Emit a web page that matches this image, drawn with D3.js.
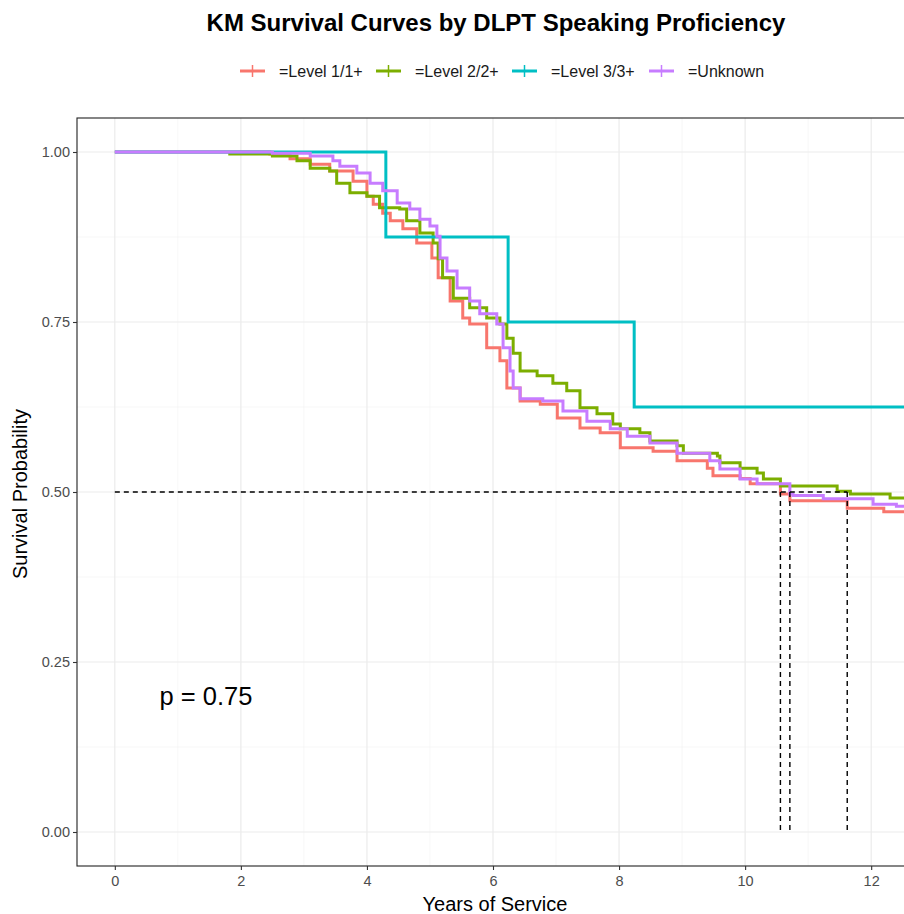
<!DOCTYPE html>
<html lang="en">
<head>
    <meta charset="UTF-8">
    <title>KM Survival Curves</title>
    <script src="https://cdnjs.cloudflare.com/ajax/libs/d3/7.8.5/d3.min.js"></script>
    <style>
        body {
            margin: 0;
            padding: 0;
            background: #fff;
            font-family: "Liberation Sans", Arial, sans-serif;
        }
        svg { display: block; }
    </style>
</head>
<body>
    <svg width="904" height="914"></svg>
    <script>
        // groups and colours
        const groups = ["=Level 1/1+", "=Level 2/2+", "=Level 3/3+", "=Unknown"];
        const colors = ["#F8766D", "#7CAE00", "#00BFC4", "#C77CFF"];

        // step curves: times (years) and survival after each step
        const level1Time = [0, 2.46, 2.78, 3.1, 3.41, 3.78, 4.0, 4.1, 4.25, 4.37, 4.57, 4.79, 5.03, 5.13, 5.32, 5.52, 5.63, 5.9, 6.11, 6.22, 6.43, 6.75, 7.02, 7.38, 7.7, 8.02, 8.54, 8.92, 9.4, 9.49, 9.92, 10.08, 10.56, 10.71, 11.62, 12.2, 12.6];
        const level1Surv = [1.0, 0.997, 0.99, 0.982, 0.972, 0.957, 0.935, 0.923, 0.91, 0.899, 0.887, 0.866, 0.844, 0.815, 0.781, 0.756, 0.747, 0.712, 0.693, 0.653, 0.634, 0.629, 0.609, 0.594, 0.587, 0.565, 0.56, 0.546, 0.535, 0.524, 0.52, 0.512, 0.497, 0.487, 0.476, 0.471, 0.469];

        const level2Time = [1.8, 2.5, 2.89, 3.1, 3.41, 3.52, 3.73, 4.0, 4.2, 4.52, 4.63, 4.84, 5.05, 5.13, 5.2, 5.37, 5.63, 5.9, 6.11, 6.22, 6.32, 6.43, 6.7, 6.95, 7.17, 7.38, 7.65, 7.9, 8.02, 8.33, 8.49, 8.92, 9.02, 9.56, 9.6, 9.92, 10.19, 10.29, 10.56, 11.46, 11.67, 12.3, 12.6];
        const level2Surv = [0.997, 0.994, 0.987, 0.976, 0.972, 0.954, 0.94, 0.935, 0.918, 0.916, 0.899, 0.881, 0.866, 0.843, 0.815, 0.785, 0.771, 0.756, 0.747, 0.726, 0.704, 0.678, 0.671, 0.66, 0.649, 0.624, 0.615, 0.6, 0.593, 0.587, 0.575, 0.568, 0.557, 0.553, 0.543, 0.535, 0.528, 0.519, 0.509, 0.501, 0.497, 0.491, 0.491];

        const level3Time = [0, 4.3, 6.24, 8.24, 12.6];
        const level3Surv = [1.0, 0.875, 0.75, 0.625, 0.625];

        const unknownTime = [0, 2.5, 3.1, 3.46, 3.57, 3.84, 4.05, 4.25, 4.48, 4.68, 4.84, 5.0, 5.11, 5.16, 5.27, 5.43, 5.63, 5.79, 6.06, 6.16, 6.27, 6.32, 6.43, 6.79, 7.11, 7.49, 7.86, 8.13, 8.49, 8.92, 9.44, 9.6, 9.92, 10.19, 10.71, 10.76, 11.24, 12.03, 12.4, 12.6];
        const unknownSurv = [1.0, 0.998, 0.994, 0.987, 0.979, 0.969, 0.954, 0.943, 0.925, 0.916, 0.901, 0.891, 0.876, 0.844, 0.825, 0.8, 0.781, 0.762, 0.747, 0.712, 0.678, 0.653, 0.637, 0.634, 0.619, 0.604, 0.593, 0.582, 0.572, 0.557, 0.546, 0.534, 0.519, 0.512, 0.497, 0.495, 0.49, 0.482, 0.479, 0.479];

        // median survival times
        const medians = [10.56, 10.71, 11.62];

        const xTicks = [0, 2, 4, 6, 8, 10, 12];
        const yTicks = [0, 0.25, 0.5, 0.75, 1];

        const series = [
            { name: groups[0], color: colors[0], t: level1Time, s: level1Surv },
            { name: groups[1], color: colors[1], t: level2Time, s: level2Surv },
            { name: groups[2], color: colors[2], t: level3Time, s: level3Surv },
            { name: groups[3], color: colors[3], t: unknownTime, s: unknownSurv }
        ];

        const svg = d3.select("svg");
        const pLeft = 77, pTop = 118, pRight = 909, pBottom = 866;

        const x = d3.scaleLinear().domain([-0.6, 12.6]).range([pLeft, pRight]);
        const y = d3.scaleLinear().domain([-0.05, 1.05]).range([pBottom, pTop]);

        svg.append("clipPath").attr("id", "clip")
            .append("rect").attr("x", pLeft).attr("y", pTop)
            .attr("width", pRight - pLeft).attr("height", pBottom - pTop);

        // grid
        const grid = svg.append("g");
        const minorX = d3.range(1, 13, 2);
        const minorY = [0.125, 0.375, 0.625, 0.875];
        grid.selectAll(".mx").data(minorX).enter().append("line")
            .attr("x1", d => x(d)).attr("x2", d => x(d))
            .attr("y1", pTop).attr("y2", pBottom)
            .attr("stroke", "#f2f2f2").attr("stroke-width", 0.6);
        grid.selectAll(".my").data(minorY).enter().append("line")
            .attr("y1", d => y(d)).attr("y2", d => y(d))
            .attr("x1", pLeft).attr("x2", pRight)
            .attr("stroke", "#f2f2f2").attr("stroke-width", 0.6);
        grid.selectAll(".gx").data(xTicks).enter().append("line")
            .attr("x1", d => x(d)).attr("x2", d => x(d))
            .attr("y1", pTop).attr("y2", pBottom)
            .attr("stroke", "#ebebeb").attr("stroke-width", 1.2);
        grid.selectAll(".gy").data(yTicks).enter().append("line")
            .attr("y1", d => y(d)).attr("y2", d => y(d))
            .attr("x1", pLeft).attr("x2", pRight)
            .attr("stroke", "#ebebeb").attr("stroke-width", 1.2);

        // curves
        const line = d3.line()
            .x(d => x(d[0]))
            .y(d => y(d[1]))
            .curve(d3.curveStepAfter);

        svg.append("g").attr("clip-path", "url(#clip)")
            .selectAll("path").data(series).enter().append("path")
            .attr("d", d => line(d.t.map((t, i) => [t, d.s[i]])))
            .attr("fill", "none")
            .attr("stroke", d => d.color)
            .attr("stroke-width", 3);

        // median lines
        const med = svg.append("g").attr("stroke", "#000").attr("stroke-width", 1.4)
            .attr("stroke-dasharray", "5,4").attr("fill", "none");
        med.append("line")
            .attr("x1", x(0)).attr("x2", x(d3.max(medians)))
            .attr("y1", y(0.5)).attr("y2", y(0.5));
        med.selectAll(".v").data(medians).enter().append("line")
            .attr("x1", d => x(d)).attr("x2", d => x(d))
            .attr("y1", y(0.5)).attr("y2", y(0));

        // p value
        svg.append("text")
            .attr("x", x(0.71)).attr("y", y(0.2) + 9)
            .attr("font-size", 25.5).attr("fill", "#000")
            .text("p = 0.75");

        // panel border
        svg.append("rect")
            .attr("x", pLeft).attr("y", pTop)
            .attr("width", pRight - pLeft).attr("height", pBottom - pTop)
            .attr("fill", "none").attr("stroke", "#222").attr("stroke-width", 1.1);

        // axes
        const xAxis = svg.append("g")
            .attr("transform", `translate(0,${pBottom})`)
            .call(d3.axisBottom(x).tickValues(xTicks).tickFormat(d3.format("d")).tickSize(4).tickPadding(6));
        const yAxis = svg.append("g")
            .attr("transform", `translate(${pLeft},0)`)
            .call(d3.axisLeft(y).tickValues(yTicks).tickFormat(d3.format(".2f")).tickSize(4).tickPadding(3));
        [xAxis, yAxis].forEach(a => {
            a.select(".domain").remove();
            a.selectAll(".tick line").attr("stroke", "#333").attr("stroke-width", 1.1);
            a.selectAll("text").attr("fill", "#4d4d4d").attr("font-size", 14.5)
                .attr("font-family", "Liberation Sans, Arial, sans-serif");
        });

        svg.append("text")
            .attr("x", 495).attr("y", 911)
            .attr("text-anchor", "middle").attr("font-size", 20)
            .text("Years of Service");
        svg.append("text")
            .attr("transform", `translate(27,494) rotate(-90)`)
            .attr("text-anchor", "middle").attr("font-size", 20)
            .text("Survival Probability");

        // title
        svg.append("text")
            .attr("x", 496).attr("y", 31)
            .attr("text-anchor", "middle").attr("font-size", 24)
            .attr("font-weight", "bold")
            .text("KM Survival Curves by DLPT Speaking Proficiency");

        // legend
        const legendX = [240, 376, 512, 649];
        const legend = svg.append("g").selectAll("g").data(series).enter().append("g")
            .attr("transform", (d, i) => `translate(${legendX[i]},71)`);
        legend.append("line").attr("x1", 0).attr("x2", 25)
            .attr("stroke", d => d.color).attr("stroke-width", 3);
        legend.append("line").attr("x1", 12.5).attr("x2", 12.5).attr("y1", -6).attr("y2", 6)
            .attr("stroke", d => d.color).attr("stroke-width", 1.5);
        legend.append("text").attr("x", 39).attr("y", 6)
            .attr("font-size", 16).attr("fill", "#1a1a1a")
            .text(d => d.name);
    </script>
</body>
</html>
